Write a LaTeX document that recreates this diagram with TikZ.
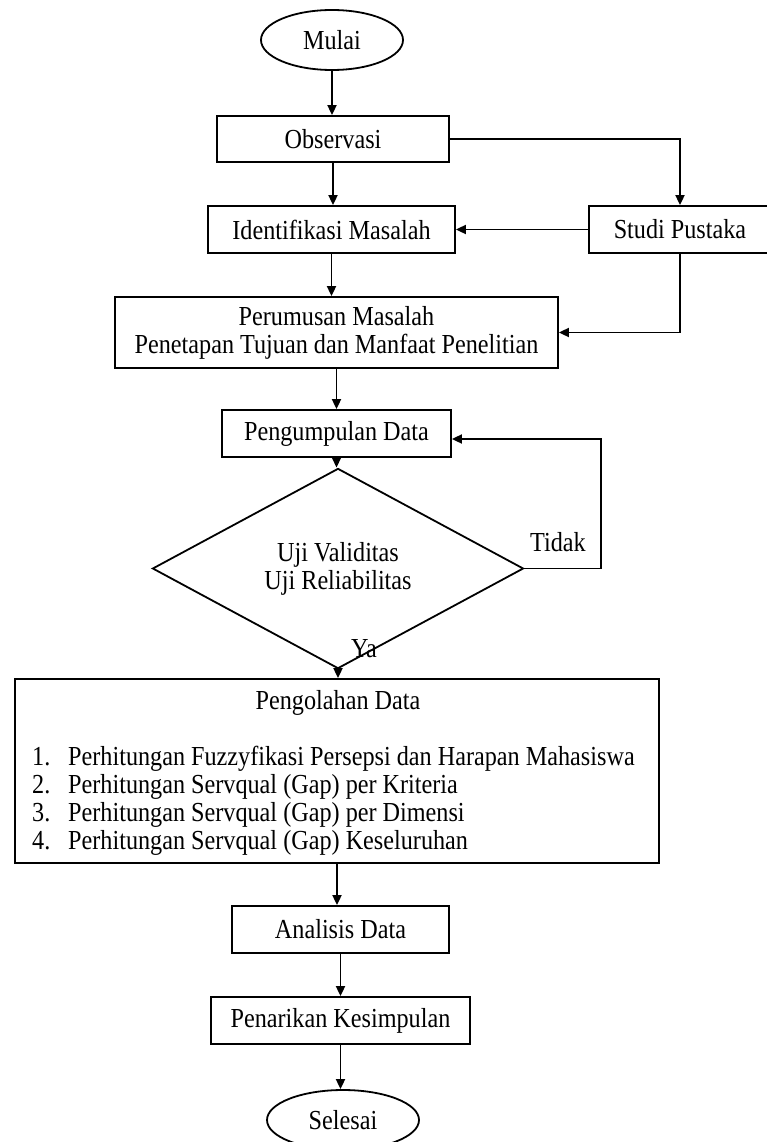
\documentclass[tikz,border=0pt]{standalone}
\usepackage{fontspec}
\setmainfont{Liberation Serif}[FakeStretch=0.88]
\usetikzlibrary{shapes.geometric,arrows.meta}
\newcommand{\flowfont}{\fontsize{27.5}{28}\selectfont}
\begin{document}
\begin{tikzpicture}[x=1pt,y=-1pt,
  box/.style={draw,line width=1.8pt,rectangle,inner sep=0pt,align=center,font=\flowfont},
  term/.style={draw,line width=1.8pt,ellipse,inner sep=0pt,font=\flowfont},
  dec/.style={draw,line width=1.8pt,diamond,inner sep=0pt,align=center,font=\flowfont},
  lbl/.style={inner sep=0pt,font=\flowfont},
  arr/.style={line width=1.8pt,-{Triangle[length=10pt,width=9pt]}},
  ln/.style={line width=1.8pt}]
\useasboundingbox (0,0) rectangle (767,1142);
\fill[white] (0,0) rectangle (767,1142);

\node[term,minimum width=142pt,minimum height=60pt] (mulai) at (332,40) {Mulai};
\node[box,minimum width=232pt,minimum height=46pt] (obs) at (333,139) {Observasi};
\node[box,minimum width=247pt,minimum height=47pt] (idm) at (331.5,229.5) {Identifikasi Masalah};
\node[box,minimum width=182pt,minimum height=47pt] (sp) at (680,229.5) {Studi Pustaka};
\node[box,minimum width=443pt,minimum height=71pt] (per) at (336.5,332.5) {Perumusan Masalah\\Penetapan Tujuan dan Manfaat Penelitian};
\node[box,minimum width=229pt,minimum height=47pt] (peng) at (336.5,433.5) {Pengumpulan Data};
\node[dec,minimum width=371pt,minimum height=133pt] (dia) at (338,568.5) {Uji Validitas\\Uji Reliabilitas};
\node[box,minimum width=644pt,minimum height=184pt] (olah) at (337,771) {};
\node[lbl,anchor=base] (olaht) at (338,709) {Pengolahan Data};
\node[lbl,anchor=base west] (n1) at (32,765) {1.};
\node[lbl,anchor=base west] (t1) at (68,765) {Perhitungan Fuzzyfikasi Persepsi dan Harapan Mahasiswa};
\node[lbl,anchor=base west] (n2) at (32,793) {2.};
\node[lbl,anchor=base west] (t2) at (68,793) {Perhitungan Servqual (Gap) per Kriteria};
\node[lbl,anchor=base west] (n3) at (32,821) {3.};
\node[lbl,anchor=base west] (t3) at (68,821) {Perhitungan Servqual (Gap) per Dimensi};
\node[lbl,anchor=base west] (n4) at (32,849) {4.};
\node[lbl,anchor=base west] (t4) at (68,849) {Perhitungan Servqual (Gap) Keseluruhan};
\node[box,minimum width=217pt,minimum height=47pt] (ana) at (340.5,929.5) {Analisis Data};
\node[box,minimum width=259pt,minimum height=47pt] (tarik) at (340.5,1020.5) {Penarikan Kesimpulan};
\node[term,minimum width=152pt,minimum height=60pt] (sel) at (343,1120) {Selesai};

\node[lbl] (tidak) at (558,542) {Tidak};
\node[lbl] (ya) at (364,649) {Ya};

\coordinate (fb) at (601,439);

\draw[arr] (mulai.south) -- (mulai.south |- obs.north);
\draw[arr] (obs.south) -- (obs.south |- idm.north);
\draw[arr] (obs.east) -| (sp.north);
\draw[arr] (sp.west) -- (idm.east);
\draw[arr] (idm.south) -- (idm.south |- per.north);
\draw[arr] (sp.south) |- (per.east);
\draw[arr] (per.south) -- (per.south |- peng.north);
\draw[arr] (peng.south) -- (peng.south |- dia.north);
\draw[arr] (dia.east) -| (fb) -- (fb -| peng.east);
\draw[arr] (dia.south) -- (dia.south |- olah.north);
\draw[arr] (olah.south) -- (olah.south |- ana.north);
\draw[arr] (ana.south) -- (ana.south |- tarik.north);
\draw[arr] (tarik.south) -- (tarik.south |- sel.north);
\end{tikzpicture}
\end{document}
